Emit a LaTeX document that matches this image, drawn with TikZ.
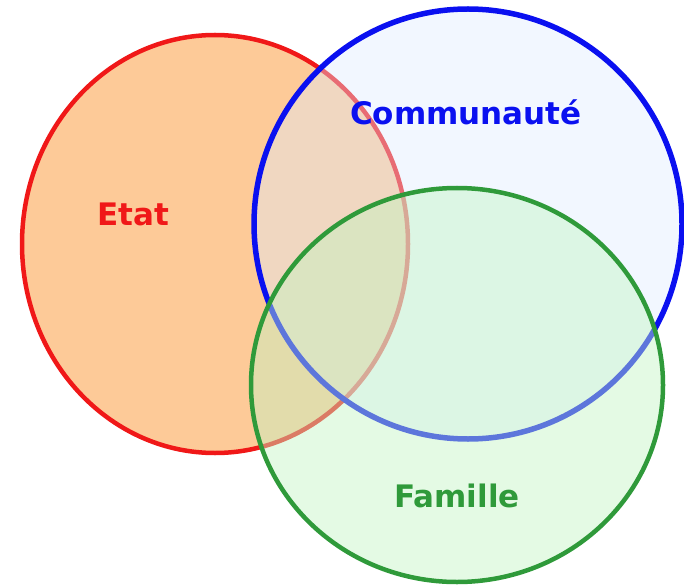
\documentclass[tikz,border=0pt]{standalone}
\usepackage{fontspec}
\setmainfont{DejaVu Sans}
\definecolor{etatred}{HTML}{F01818}
\definecolor{etatfill}{HTML}{FDCA98}
\definecolor{commblue}{HTML}{0A10F0}
\definecolor{commfill}{HTML}{DEEBFF}
\definecolor{famgreen}{HTML}{2F9A3A}
\definecolor{famfill}{HTML}{C3F4C3}
\tikzset{
  setring/.style={line width=4.5pt},
  setlabel/.style={font=\fontsize{31}{31}\selectfont\bfseries, anchor=base}
}

\begin{document}
\begin{tikzpicture}[x=1pt, y=-1pt]
  \useasboundingbox (0,0) rectangle (684,585);

  % the three sets, drawn one over the other
  \draw [setring, draw=etatred, fill=etatfill] (215,244) ellipse [x radius=193, y radius=209];
  \draw [setring, line width=5.5pt, draw=commblue, fill=commfill, fill opacity=0.4] (468,224) ellipse [x radius=214, y radius=215];
  \draw [setring, draw=famgreen, fill=famfill, fill opacity=0.45] (457,385) ellipse [x radius=206, y radius=197];

  \node [setlabel, text=etatred] (etat) at (133,225) {Etat};
  \node [setlabel, text=commblue] (communaute) at (466,125) {Communauté};
  \node [setlabel, text=famgreen] (famille) at (457,507) {Famille};
\end{tikzpicture}
\end{document}
